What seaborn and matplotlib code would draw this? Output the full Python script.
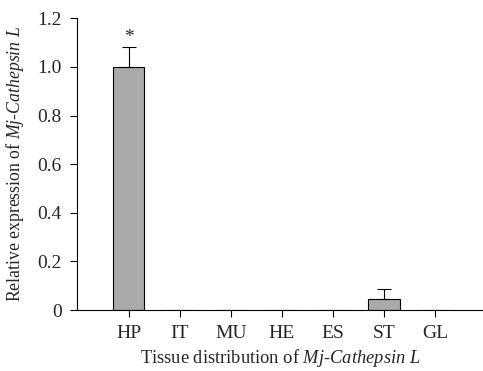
import pandas as pd
import seaborn as sns
import matplotlib.pyplot as plt

tissues = ["HP", "IT", "MU", "HE", "ES", "ST", "GL"]
expression = [1.0, 0.0, 0.0, 0.0, 0.0, 0.044, 0.0]
errors = [0.081, 0.0, 0.0, 0.0, 0.0, 0.041, 0.0]
signif = ["*", "", "", "", "", "", ""]

df = pd.DataFrame({"tissue": tissues, "expr": expression, "err": errors})

sns.set_style("ticks")
plt.rcParams["font.family"] = ["Liberation Serif", "DejaVu Serif"]
plt.rcParams["mathtext.fontset"] = "custom"
plt.rcParams["mathtext.it"] = "Liberation Serif:italic"
plt.rcParams["mathtext.rm"] = "Liberation Serif"

fig = plt.figure(figsize=(4.83, 3.71), dpi=100)
ax = fig.add_axes([0.159, 0.164, 0.841, 0.787])

sns.barplot(data=df, x="tissue", y="expr", color="#aaaaaa", edgecolor="black",
            linewidth=0.8, width=0.61, saturation=1, ax=ax)

# only the upper half of the error bars, for tissues that have one
idx = [i for i, e in enumerate(errors) if e > 0]
ax.errorbar(idx, [expression[i] for i in idx],
            yerr=[[0] * len(idx), [errors[i] for i in idx]],
            fmt="none", ecolor="black", elinewidth=0.8, capsize=5, capthick=0.8)

for i, s in enumerate(signif):
    if s:
        ax.text(i, expression[i] + errors[i] + 0.004, s, ha="center", va="bottom", fontsize=14)

ax.set_xlim(-1.02, 6.94)
ax.set_ylim(0, 1.2)
ax.set_yticks([0, 0.2, 0.4, 0.6, 0.8, 1.0, 1.2])
ax.set_yticklabels(["0", "0.2", "0.4", "0.6", "0.8", "1.0", "1.2"])
ax.tick_params(axis="both", direction="out", length=5, width=0.8, labelsize=14, color="black", pad=6)
for side in ["left", "bottom"]:
    ax.spines[side].set_linewidth(0.8)
    ax.spines[side].set_color("black")
sns.despine(ax=ax)

ax.set_xlabel("Tissue distribution of $\\mathit{Mj}$-$\\mathit{Cathepsin\\ L}$", fontsize=13.3, labelpad=3)
ax.set_ylabel("Relative expression of $\\mathit{Mj}$-$\\mathit{Cathepsin\\ L}$", fontsize=12.8, labelpad=8)

fig.savefig("out.png", dpi=100)
